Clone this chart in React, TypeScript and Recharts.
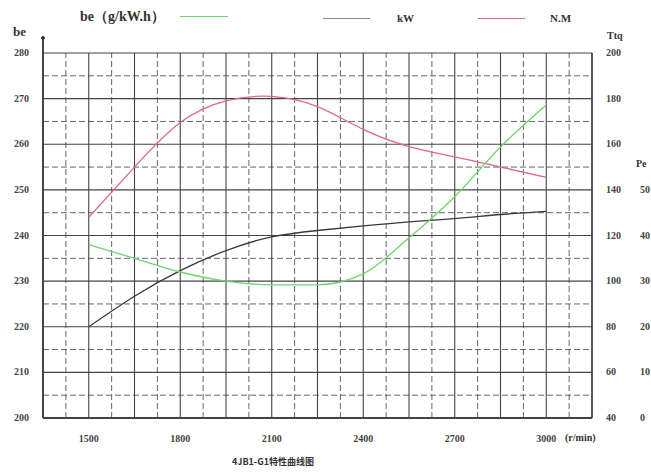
import { LineChart, Line, XAxis, YAxis, ReferenceLine, ReferenceDot } from 'recharts';

// engine speed (r/min) and the three curves
const rpm = [1500, 1650, 1800, 1950, 2100, 2250, 2400, 2550, 2700, 2850, 3000];
const fuelBe = [238, 235, 232, 230, 229.2, 229.2, 231.6, 239.5, 248.5, 259.4, 268.6];
const powerKw = [20, 26.7, 32.3, 36.7, 39.7, 41.1, 42.1, 43, 43.7, 44.6, 45.3];
const torqueNm = [128, 150, 169.5, 179, 181, 176.5, 166.5, 159, 154.5, 150, 145.5];

const xTicks = [1500, 1800, 2100, 2400, 2700, 3000];
const beTicks = [200, 210, 220, 230, 240, 250, 260, 270, 280];
const ttqTicks = [40, 60, 80, 100, 120, 140, 160, 180, 200];
const peTicks = [0, 10, 20, 30, 40, 50];

// grid
const rpmMajor = Array.from({ length: 13 }, (_, i) => 1350 + i * 150);
const rpmMinor = Array.from({ length: 12 }, (_, i) => 1425 + i * 150);
const beMajor = beTicks;
const beMinor = [205, 215, 225, 235, 245, 255, 265, 275];

const data = rpm.map((r, i) => ({ rpm: r, be: fuelBe[i], kw: powerKw[i], nm: torqueNm[i] }));

const SERIF = 'Times New Roman, Liberation Serif, DejaVu Serif, serif';
const GREEN = '#6fd46f';
const BLACK = '#3a3a3a';
const RED = '#dd6b7d';
const GRID = '#444';

const tickStyle = { fontFamily: SERIF, fontSize: 10, fontWeight: 700, fill: '#444' };

const LeftTick = (p: any) => (
  <text x={p.x - 6} y={p.y} dy={3} textAnchor="end" fontFamily={SERIF} style={tickStyle}>{p.payload.value}</text>
);
const TtqTick = (p: any) => (
  <text x={p.x + 6} y={p.y} dy={3} textAnchor="start" fontFamily={SERIF} style={tickStyle}>{p.payload.value}</text>
);
const PeTick = (p: any) => (
  <text x={p.x + 4} y={p.y} dy={3} textAnchor="start" fontFamily={SERIF} style={tickStyle}>{p.payload.value}</text>
);
const BottomTick = (p: any) => (
  <text x={p.x} y={p.y} dy={16} textAnchor="middle" fontFamily={SERIF} style={tickStyle}>{p.payload.value}</text>
);

const abs = (left: number, top: number, extra: any = {}) => ({
  position: 'absolute' as const, left, top, fontFamily: SERIF, color: '#333', whiteSpace: 'nowrap' as const, ...extra,
});

export default function App() {
  return (
    <div style={{ position: 'absolute', left: 0, top: 0, width: 651, height: 475, background: '#fff', overflow: 'hidden' }}>
      <LineChart width={651} height={475} data={data} margin={{ top: 53, right: 0, bottom: 27, left: 0 }}>
        <XAxis dataKey="rpm" type="number" domain={[1350, 3150]} ticks={xTicks} height={30}
          axisLine={false} tickLine={false} tick={BottomTick} allowDataOverflow />
        <YAxis yAxisId="be" domain={[200, 280]} ticks={beTicks} width={43}
          axisLine={false} tickLine={false} tick={LeftTick} />
        <YAxis yAxisId="a_ttq" orientation="right" domain={[40, 200]} ticks={ttqTicks} width={36}
          axisLine={false} tickLine={false} tick={TtqTick} />
        <YAxis yAxisId="b_pe" orientation="right" domain={[0, 80]} ticks={peTicks} width={23}
          axisLine={false} tickLine={false} tick={PeTick} />

        {beMinor.map((v) => (
          <ReferenceLine key={'hm' + v} yAxisId="be" y={v} stroke="#666" strokeDasharray="6 3" />
        ))}
        {rpmMinor.map((v) => (
          <ReferenceLine key={'vm' + v} yAxisId="be" x={v} stroke="#666" strokeDasharray="6 3" />
        ))}
        {beMajor.map((v) => (
          <ReferenceLine key={'hM' + v} yAxisId="be" y={v} stroke={GRID} strokeWidth={v === 200 ? 2 : 1.1} />
        ))}
        {rpmMajor.map((v) => (
          <ReferenceLine key={'vM' + v} yAxisId="be" x={v} stroke={GRID} strokeWidth={v === 1350 ? 2 : v === 3150 ? 1.8 : 1.1} />
        ))}
        <ReferenceLine yAxisId="be" segment={[{ x: 1350, y: 280 }, { x: 1350, y: 283.3 }]} stroke={GRID} strokeWidth={2} ifOverflow="visible" />
        <ReferenceDot yAxisId="be" x={1350} y={283.3} r={1.5} fill="#333" stroke="#333" ifOverflow="visible" />

        <Line yAxisId="a_ttq" type="natural" dataKey="nm" stroke={RED} strokeWidth={1.3} dot={false} isAnimationActive={false} />
        <Line yAxisId="b_pe" type="natural" dataKey="kw" stroke={BLACK} strokeWidth={1.3} dot={false} isAnimationActive={false} />
        <Line yAxisId="be" type="monotone" dataKey="be" stroke={GREEN} strokeWidth={1.3} dot={false} isAnimationActive={false} />
      </LineChart>

      {/* legend */}
      <div style={abs(80, 8, { fontSize: 14, fontWeight: 700 })}>be（g/kW.h）</div>
      <div style={abs(180, 16, { width: 48, height: 0, borderTop: `1.5px solid ${GREEN}` })} />
      <div style={abs(323, 18, { width: 47, height: 0, borderTop: '1.5px solid #888' })} />
      <div style={abs(397, 12, { fontSize: 11, fontWeight: 700 })}>kW</div>
      <div style={abs(478, 18, { width: 47, height: 0, borderTop: `1.5px solid ${RED}` })} />
      <div style={abs(550, 12, { fontSize: 11, fontWeight: 700 })}>N.M</div>

      {/* axis names */}
      <div style={abs(13, 24, { fontSize: 13, fontWeight: 700 })}>be</div>
      <div style={abs(607, 30, { fontSize: 10, fontWeight: 700 })}>Ttq</div>
      <div style={abs(636, 158, { fontSize: 10, fontWeight: 700 })}>Pe</div>
      <div style={abs(565, 432, { fontSize: 10, fontWeight: 700 })}>(r/min)</div>

      {/* title */}
      <div style={abs(232, 455, { fontSize: 9, fontWeight: 700, fontFamily: '"Noto Sans CJK SC", sans-serif' })}>4JB1-G1特性曲线图</div>
    </div>
  );
}
